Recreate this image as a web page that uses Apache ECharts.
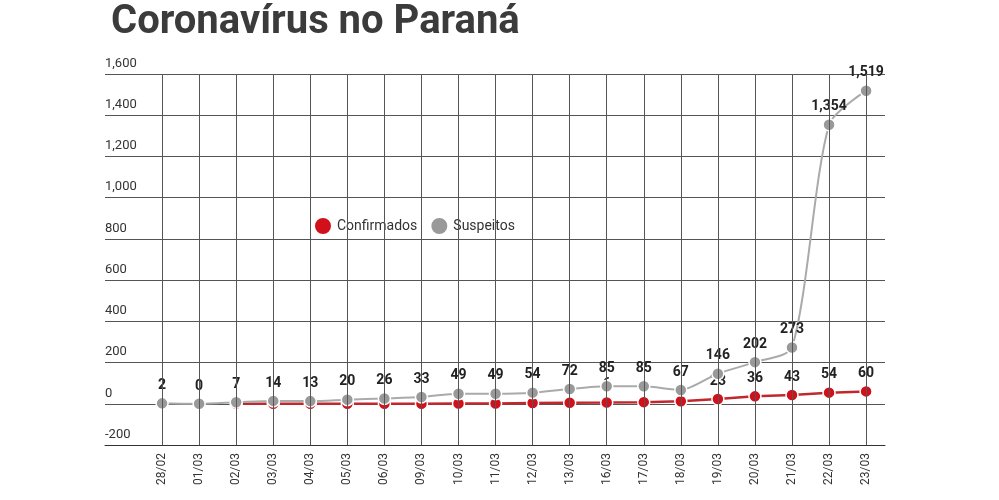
<!DOCTYPE html>
<html><head><meta charset="utf-8">
<script src="https://cdn.jsdelivr.net/npm/echarts@6/dist/echarts.min.js"></script>
<style>body{margin:0;background:#fff}#container{width:999px;height:500px}</style>
</head><body><div id="container"></div>
<script>
var dias = ['28/02','01/03','02/03','03/03','04/03','05/03','06/03','09/03','10/03','11/03','12/03','13/03','16/03','17/03','18/03','19/03','20/03','21/03','22/03','23/03'];
var suspeitos = [2,0,7,14,13,20,26,33,49,49,54,72,85,85,67,146,202,273,1354,1519];
var confirmados = [null,null,0,0,0,0,0,0,1,1,4,5,6,8,12,23,36,43,54,60];
var rotulosConfirmados = [12,15,16,17,18,19];

var dom = document.getElementById("container");
var myChart = echarts.init(dom);
var idx = dias.map(function (d, i) { return i; });

var labelStyle = {show: true, position: 'top', color: '#222', fontWeight: 'bold', fontSize: 14, fontFamily: 'Roboto', distance: 4,
    formatter: function (p) { return p.value[1].toLocaleString('en-US'); }};

option = {
    backgroundColor: '#fff',
    title: {text: 'Coronavírus no Paraná', left: 106, top: -2,
        textStyle: {fontSize: 40, fontWeight: 'bold', color: '#3b3b3b', fontFamily: 'Roboto'}},
    legend: {left: 308, top: 211, itemWidth: 18, itemHeight: 18, itemGap: 12, icon: 'circle',
        textStyle: {fontSize: 14, color: '#333', fontFamily: 'Roboto'},
        data: ['Confirmados', 'Suspeitos']},
    grid: {left: 105, right: 114, top: 74, bottom: 55},
    xAxis: {
        type: 'value', min: -1.54, max: 19.51,
        axisLine: {show: true, lineStyle: {color: '#333'}, onZero: false},
        axisTick: {show: false},
        splitLine: {show: false},
        axisLabel: {customValues: idx, rotate: 90, color: '#333', fontSize: 12, fontFamily: 'Roboto', margin: 8,
            formatter: function (v) { return dias[Math.round(v)] || ''; }}
    },
    yAxis: {
        type: 'value', min: -200, max: 1600, interval: 200,
        axisLine: {show: false}, axisTick: {show: false},
        splitLine: {lineStyle: {color: '#555', width: 1}},
        axisLabel: {inside: true, verticalAlign: 'bottom', align: 'left', margin: 0, padding: [0, 0, 4, 0],
            color: '#333', fontSize: 13, fontFamily: 'Roboto',
            formatter: function (v) { return v.toLocaleString('en-US'); }}
    },
    series: [{
        name: 'Confirmados', type: 'line',
        data: confirmados.map(function (v, i) {
            return {value: [i, v], label: {show: rotulosConfirmados.indexOf(i) >= 0}};
        }),
        symbol: 'circle', symbolSize: 12, z: 2,
        itemStyle: {color: '#d0101a', borderColor: '#fff', borderWidth: 1.5},
        lineStyle: {color: '#c0282e', width: 2.5},
        label: labelStyle
    }, {
        name: 'Suspeitos', type: 'line', smooth: 0.25,
        data: suspeitos.map(function (v, i) { return [i, v]; }),
        symbol: 'circle', symbolSize: 12, z: 3,
        itemStyle: {color: '#999', borderColor: '#fff', borderWidth: 1.5},
        lineStyle: {color: '#aaa', width: 2},
        label: labelStyle,
        markLine: {silent: true, symbol: 'none', label: {show: false},
            lineStyle: {color: '#555', width: 1, type: 'solid'},
            data: idx.map(function (i) { return {xAxis: i}; })}
    }]
};
myChart.setOption(option, true);
</script></body></html>
